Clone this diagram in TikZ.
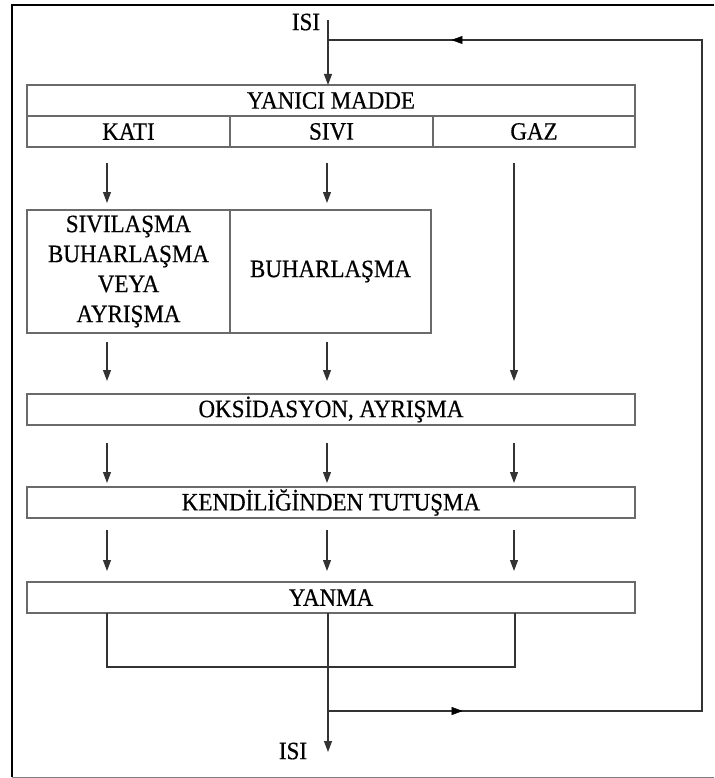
\documentclass[tikz,border=0pt]{standalone}
\usepackage{fontspec}
\setmainfont[FakeStretch=0.92,FakeBold=0.5]{Liberation Serif}
\usetikzlibrary{arrows.meta,decorations.markings}
\definecolor{boxgray}{HTML}{6A6A6A}
\definecolor{linegray}{HTML}{333333}
\tikzset{
  cell/.style={draw=boxgray, line width=1.8pt, fill=white, inner sep=0pt, outer sep=0pt,
    font=\fontsize{25}{30}\selectfont, align=center},
  arr/.style={draw=linegray, line width=1.1pt, -{Triangle[length=11pt,width=8pt]}},
  conn/.style={draw=linegray, line width=1.1pt},
  midarrow/.style={postaction={decorate}, decoration={markings,
    mark=at position #1 with {\arrow{Triangle[length=11pt,width=8pt]}}}},
  lbl/.style={inner sep=0pt, font=\fontsize{25}{28}\selectfont}
}
\begin{document}
\begin{tikzpicture}[x=1pt,y=-1pt]
\useasboundingbox (0,0) rectangle (714,778);
% outer frame
\draw[line width=2pt, black] (714,5) -- (12,5) -- (12,777);
\draw[line width=1pt, gray] (12,777) -- (714,777);

% top box
\node[cell, minimum width=608pt, minimum height=31pt] (ym) at (331,100.5) {YANICI MADDE};
\node[cell, minimum width=203pt, minimum height=31pt] (kati) at (128.5,131.5) {KATI};
\node[cell, minimum width=203pt, minimum height=31pt] (sivi) at (331.5,131.5) {SIVI};
\node[cell, minimum width=202pt, minimum height=31pt] (gaz) at (534,131.5) {GAZ};

% second box
\node[cell, minimum width=203pt, minimum height=123pt] (svl) at (128.5,271.5) {SIVILAŞMA\\BUHARLAŞMA\\VEYA\\AYRIŞMA};
\node[cell, minimum width=201pt, minimum height=123pt] (buh) at (330.5,271.5) {BUHARLAŞMA};

% wide boxes
\node[cell, minimum width=608pt, minimum height=31pt] (oks) at (331,409.5) {OKSİDASYON, AYRIŞMA};
\node[cell, minimum width=608pt, minimum height=31pt] (kend) at (331,502.5) {KENDİLİĞİNDEN TUTUŞMA};
\node[cell, minimum width=608pt, minimum height=31pt] (yanma) at (331,597.5) {YANMA};

% labels
\node[lbl] (isitop) at (306,22) {ISI};
\node[lbl] (isibot) at (293,751) {ISI};

% coordinates
\coordinate (tA) at (328,20);
\coordinate (fbA) at (328,40);
\coordinate (fbB) at (702,40);
\coordinate (fbC) at (702,711);
\coordinate (fbD) at (328,711);
\coordinate (botEnd) at (328,752);

\coordinate (a1s) at (107,163); \coordinate (a1e) at (107,203);
\coordinate (a2s) at (327,163); \coordinate (a2e) at (327,203);
\coordinate (a3s) at (514,163); \coordinate (a3e) at (514,381);
\coordinate (b1s) at (107,342); \coordinate (b1e) at (107,381);
\coordinate (b2s) at (327,342); \coordinate (b2e) at (327,381);
\coordinate (c1s) at (107,443); \coordinate (c1e) at (107,483);
\coordinate (c2s) at (327,443); \coordinate (c2e) at (327,483);
\coordinate (c3s) at (514,443); \coordinate (c3e) at (514,483);
\coordinate (d1s) at (107,530); \coordinate (d1e) at (107,571);
\coordinate (d2s) at (327,530); \coordinate (d2e) at (327,571);
\coordinate (d3s) at (514,530); \coordinate (d3e) at (514,571);
\coordinate (brL) at (107,667);
\coordinate (brR) at (515,667);

% input heat and feedback loop
\draw[arr] (tA) -- (ym.north -| tA);
\draw[conn] (fbD) -- (fbC) -- (fbB) -- (fbA);
\path[midarrow=0.67] (fbB) -- (fbA);
\path[midarrow=0.36] (fbD) -- (fbC);

% arrows
\foreach \s/\e in {a1s/a1e,a2s/a2e,a3s/a3e,b1s/b1e,b2s/b2e,c1s/c1e,c2s/c2e,c3s/c3e,d1s/d1e,d2s/d2e,d3s/d3e}
  \draw[arr] (\s) -- (\e);

% bracket below YANMA
\draw[conn] (yanma.south -| brL) -- (brL) -- (brR) -- (yanma.south -| brR);
\draw[arr] (yanma.south -| botEnd) -- (botEnd);
\end{tikzpicture}
\end{document}
